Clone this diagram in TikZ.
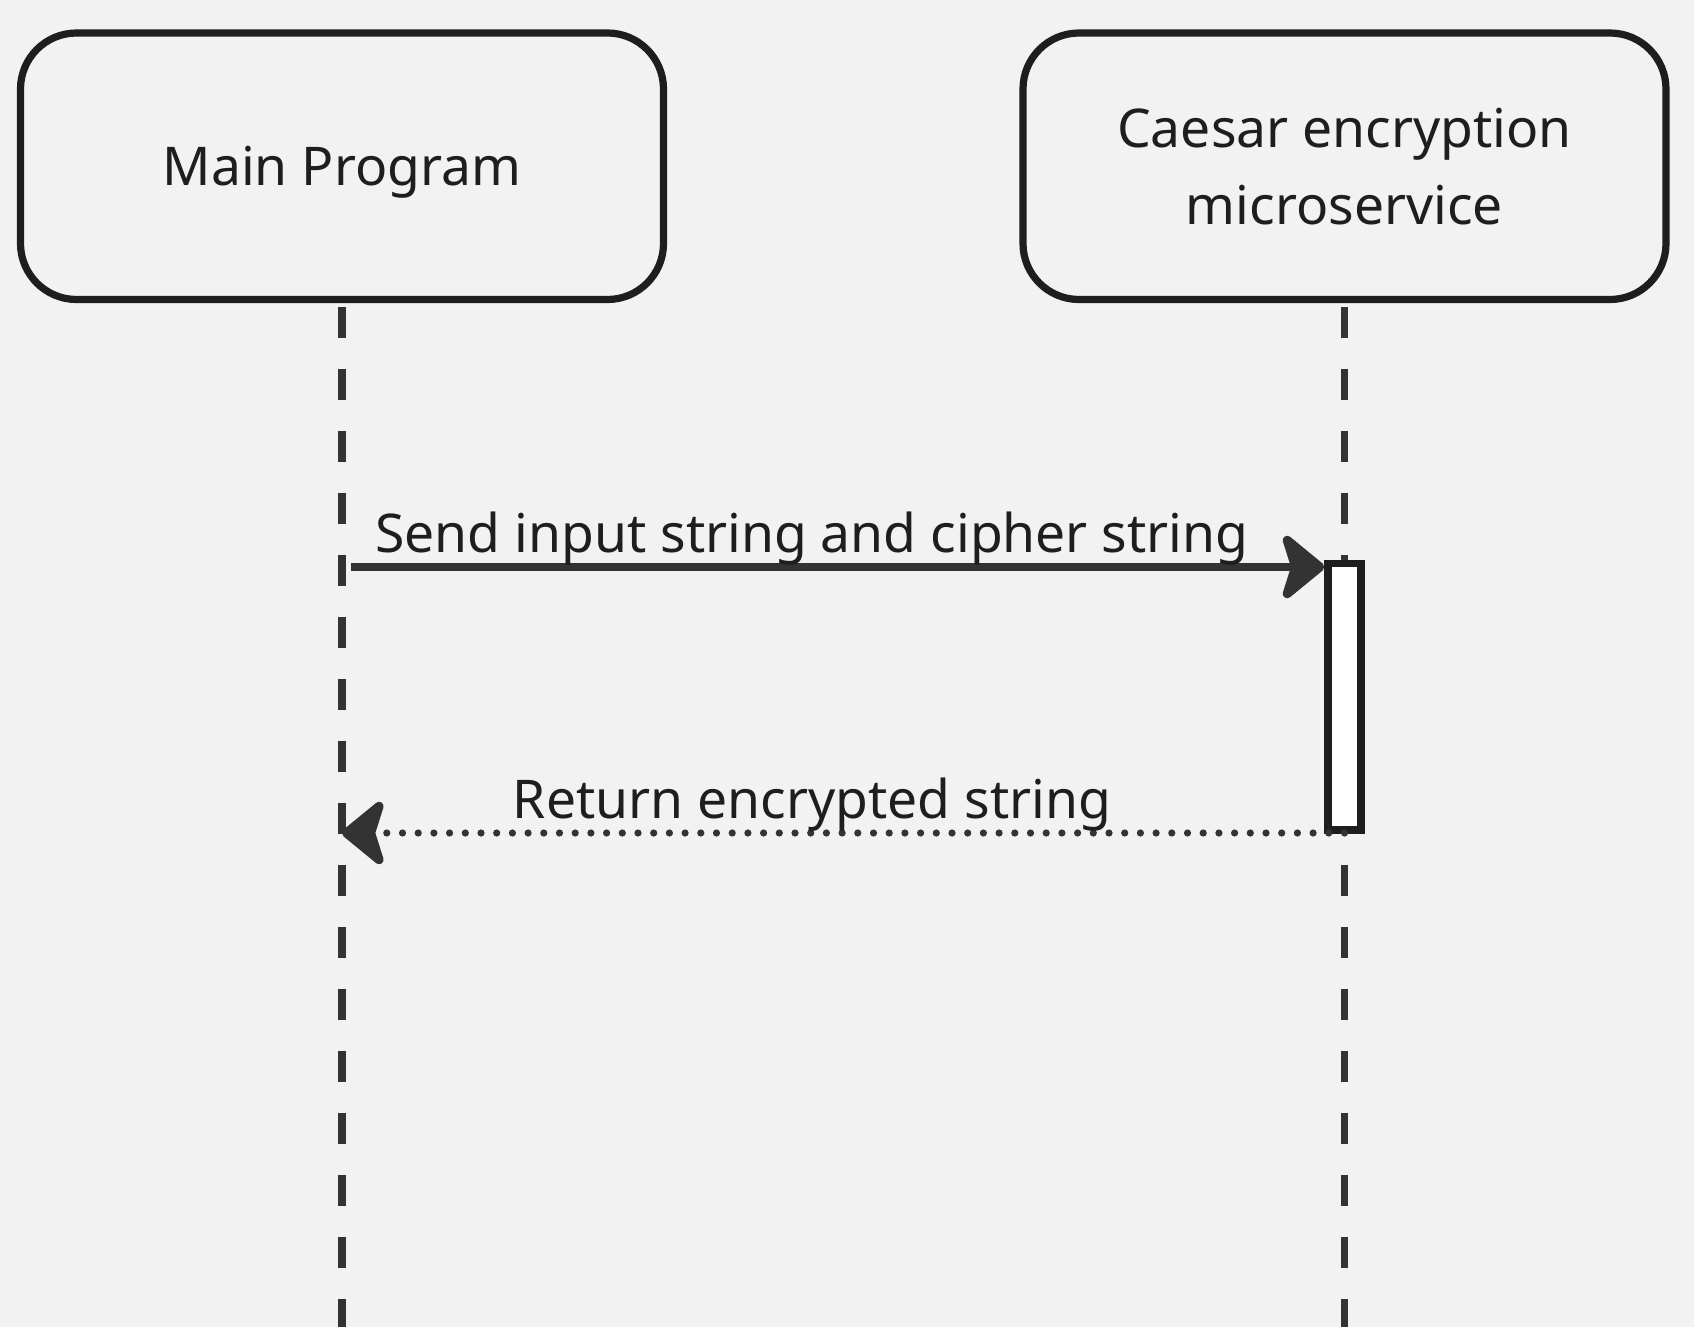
\documentclass[tikz,border=0pt]{standalone}
\usepackage{fontspec}
\setmainfont{Noto Sans}
\usepackage{xcolor}
\usetikzlibrary{arrows.meta}
\usetikzlibrary{calc}
\usetikzlibrary{positioning}
\definecolor{paper}{HTML}{F2F2F2}
\definecolor{ink}{HTML}{333333}
\definecolor{frame}{HTML}{1E1E1E}

\begin{document}
\begin{tikzpicture}[x=0.5pt,y=-0.5pt,node distance=501.25pt]
	\tikzstyle{actor}=[draw=frame, fill=paper, line width=3.6pt, rounded corners=28pt, minimum width=321.5pt, minimum height=133.25pt, inner sep=0pt, align=center, text=frame, font=\fontsize{26.7}{38.5}\selectfont]
	\tikzstyle{lifeline}=[draw=ink, line width=3.6pt, dash pattern=on 15.5pt off 15.5pt, dash phase=29.25pt]
	\tikzstyle{activation}=[draw=frame, fill=white, line width=3.7pt, minimum width=16.5pt, minimum height=133.25pt, inner sep=0pt]
	\tikzstyle{msg}=[draw=ink, line width=3.6pt, -{Stealth[length=24pt, width=39pt, inset=6pt, line width=4.5pt, round]}]
	\tikzstyle{reply}=[msg, line cap=round, dash pattern=on 0pt off 7.85pt]
	\tikzstyle{label}=[anchor=base, inner sep=0pt, text=frame, font=\fontsize{26.7}{32}\selectfont]

	\fill[paper] (0,0) rectangle (1694,1327);
	\useasboundingbox (0,0) rectangle (1694,1327);

	\node[actor, text depth=0pt] (main) at (342,166.25) {Main Program};
	\node[actor] (caesar) [right of=main] {Caesar encryption\\microservice};

	% lifelines
	\coordinate (mainend) at (342,1327);
	\coordinate (caesarend) at (caesar.south |- mainend);
	\foreach \i in {main,caesar}{
		\draw[lifeline] (\i.south) -- (\i end);
	}

	\node[activation] (act) at (1344.5,696.75) {};

	% messages
	\coordinate (send) at (351,567);
	\draw[msg] (send) -- (act.west |- send);
	\node[label] (sendtext) at (812,552) {Send input string and cipher string};

	\coordinate (ret) at (caesar.south |- 0,833);
	\draw[reply] (ret) -- (main.south |- ret);
	\node[label] (rettext) at (812,818) {Return encrypted string};
\end{tikzpicture}
\end{document}
